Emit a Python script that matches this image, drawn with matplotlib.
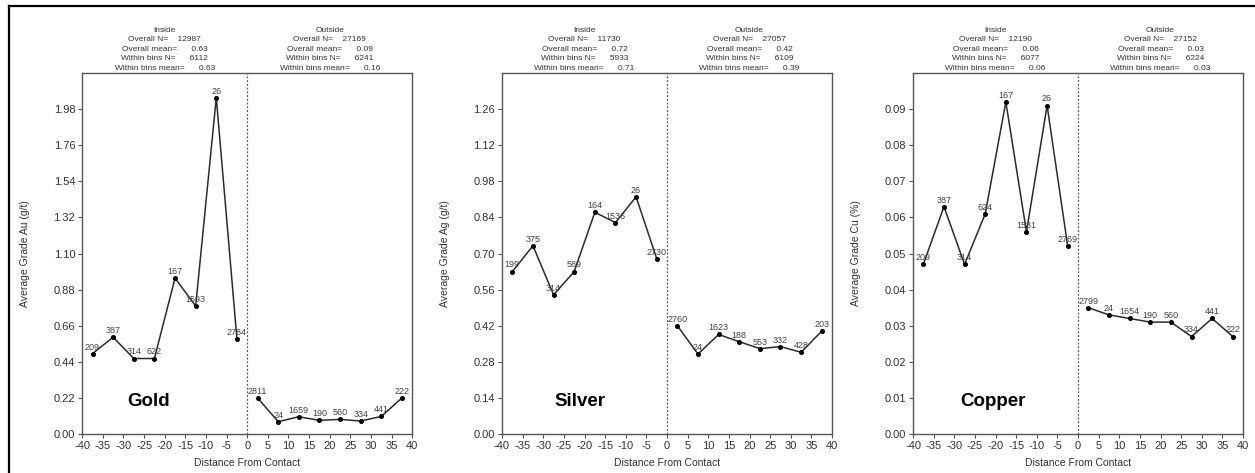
import matplotlib.pyplot as plt
from matplotlib.lines import Line2D

plt.rcParams["font.family"] = ["Liberation Sans", "DejaVu Sans"]
plt.rcParams["axes.unicode_minus"] = False

# bin centres (m from contact)
x_inside = [-37.5, -32.5, -27.5, -22.5, -17.5, -12.5, -7.5, -2.5]
x_outside = [2.5, 7.5, 12.5, 17.5, 22.5, 27.5, 32.5, 37.5]

# Gold
au_in = [0.49, 0.59, 0.46, 0.46, 0.95, 0.78, 2.05, 0.58]
au_out = [0.22, 0.075, 0.105, 0.083, 0.089, 0.079, 0.107, 0.22]
au_n_in = ["209", "387", "314", "622", "167", "1593", "26", "2784"]
au_n_out = ["2811", "24", "1659", "190", "560", "334", "441", "222"]

# Silver
ag_in = [0.63, 0.73, 0.54, 0.63, 0.86, 0.82, 0.92, 0.68]
ag_out = [0.42, 0.31, 0.386, 0.358, 0.331, 0.339, 0.317, 0.399]
ag_n_in = ["199", "375", "314", "589", "164", "1536", "26", "2730"]
ag_n_out = ["2760", "24", "1623", "188", "553", "332", "428", "203"]

# Copper
cu_in = [0.047, 0.063, 0.047, 0.061, 0.092, 0.056, 0.091, 0.052]
cu_out = [0.035, 0.033, 0.032, 0.031, 0.031, 0.027, 0.032, 0.027]
cu_n_in = ["209", "387", "314", "624", "167", "1581", "26", "2769"]
cu_n_out = ["2799", "24", "1654", "190", "560", "334", "441", "222"]

# header stats: overall N, overall mean, within bins N, within bins mean
au_stats_in = ["12987", "0.63", "6112", "0.63"]
au_stats_out = ["27169", "0.09", "6241", "0.16"]
ag_stats_in = ["11730", "0.72", "5933", "0.71"]
ag_stats_out = ["27057", "0.42", "6109", "0.39"]
cu_stats_in = ["12190", "0.06", "6077", "0.06"]
cu_stats_out = ["27152", "0.03", "6224", "0.03"]

panels = [
    ("Gold", "Average Grade Au (g/t)", au_in, au_out, au_n_in, au_n_out,
     au_stats_in, au_stats_out, 2.2, 0.22, 0.137),
    ("Silver", "Average Grade Ag (g/t)", ag_in, ag_out, ag_n_in, ag_n_out,
     ag_stats_in, ag_stats_out, 1.4, 0.14, 0.158),
    ("Copper", "Average Grade Cu (%)", cu_in, cu_out, cu_n_in, cu_n_out,
     cu_stats_in, cu_stats_out, 0.1, 0.01, 0.142),
]

lefts = [0.0655, 0.400, 0.7275]
line_col = "#2b2b2b"
spine_col = "#555555"
text_col = "#333333"

fig = plt.figure(figsize=(12.55, 4.73), dpi=100)

for left, p in zip(lefts, panels):
    (name, ylab, y_in, y_out, n_in, n_out, s_in, s_out,
     ymax, ystep, name_x) = p
    ax = fig.add_axes([left, 0.0825, 0.263, 0.763])

    for xs, ys, ns in [(x_inside, y_in, n_in), (x_outside, y_out, n_out)]:
        ax.plot(xs, ys, color=line_col, lw=1.1, marker="o", ms=2.6,
                mfc="black", mec="black", zorder=3)
        for xv, yv, lbl in zip(xs, ys, ns):
            ax.annotate(lbl, (xv, yv), xytext=(0, 1.5), textcoords="offset points",
                        ha="center", va="bottom", fontsize=6.5, color="#444444")

    ax.axvline(0, color="#555555", lw=0.9, ls=(0, (1.5, 1.5)), zorder=1)

    ax.set_xlim(-40, 40)
    ax.set_ylim(0, ymax)
    ax.set_xticks(range(-40, 41, 5))
    nt = int(round(ymax / ystep))
    yt = [i * ystep for i in range(nt)]
    ax.set_yticks(yt)
    ax.set_yticklabels([f"{v:.2f}" for v in yt])
    ax.tick_params(direction="out", length=3, width=0.8, labelsize=8,
                   colors=spine_col, labelcolor=text_col, pad=2)
    for sp in ax.spines.values():
        sp.set_color(spine_col)
        sp.set_linewidth(1.0)

    ax.set_xlabel("Distance From Contact", fontsize=7.5, color=text_col)
    ax.xaxis.set_label_coords(0.5, -0.066)
    ax.set_ylabel(ylab, fontsize=7.5, color=text_col)
    ax.yaxis.set_label_coords(-0.157, 0.5)

    ax.text(name_x, 0.089, name, transform=ax.transAxes, fontsize=13.5,
            fontweight="bold", ha="left", va="center", color="black")

    # header block above each half
    tr = ax.get_xaxis_transform()
    for cx, title, st in [(-20, "Inside", s_in), (20, "Outside", s_out)]:
        lines = [
            title,
            f"Overall N=    {st[0]}",
            f"Overall mean=      {st[1]}",
            f"Within bins N=      {st[2]}",
            f"Within bins mean=      {st[3]}",
        ]
        for i, t in enumerate(lines):
            ax.text(cx, 1.119 - i * 0.0265, t, transform=tr, ha="center",
                    va="center", fontsize=6, color=text_col)

# outer frame (top and left edges visible)
fig.add_artist(Line2D([0.0068, 1.0], [0.9873, 0.9873], transform=fig.transFigure,
                      color="black", lw=1.6))
fig.add_artist(Line2D([0.0068, 0.0068], [0.0, 0.9873], transform=fig.transFigure,
                      color="black", lw=1.6))

fig.savefig("out.png", dpi=100)
plt.close(fig)
